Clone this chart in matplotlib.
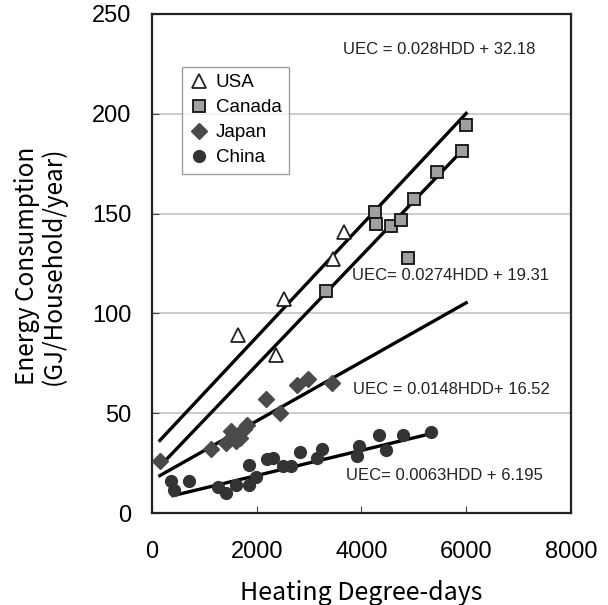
import matplotlib
matplotlib.use('Agg')
import matplotlib.pyplot as plt
import numpy as np

# data
usa_hdd = [1640, 2360, 2530, 3450, 3660]
usa_uec = [89, 79, 107, 127, 141]

canada_hdd = [3330, 4250, 4270, 4570, 4760, 4880, 5010, 5450, 5920, 6000]
canada_uec = [111, 151, 145, 144, 147, 127.5, 157.5, 171, 181.5, 194.5]

japan_hdd = [150, 1120, 1420, 1500, 1600, 1680, 1750, 1820, 2180, 2450, 2760, 2980, 3440]
japan_uec = [26, 32, 35, 41, 36, 37.5, 42, 44, 57, 50, 64, 67, 65]

china_hdd = [360, 420, 710, 1260, 1410, 1610, 1850, 1850, 1990, 2190, 2320, 2500, 2660,
             2820, 3150, 3250, 3910, 3960, 4330, 4460, 4790, 5330]
china_uec = [16, 11.5, 16, 13, 10, 14, 14, 24, 18, 27, 27.5, 23.5, 23.5,
             30.5, 27.5, 32, 28.5, 33.5, 39, 31.5, 39, 40.5]

# regression lines: (slope, intercept, hdd range, label)
fits = {
    'USA': (0.028, 32.18, (150, 6000), 'UEC = 0.028HDD + 32.18'),
    'Canada': (0.0274, 19.31, (150, 6000), 'UEC= 0.0274HDD + 19.31'),
    'Japan': (0.0148, 16.52, (150, 6000), 'UEC = 0.0148HDD+ 16.52'),
    'China': (0.0063, 6.195, (400, 5330), 'UEC= 0.0063HDD + 6.195'),
}
label_pos = {
    'USA': (3640, 232),
    'Canada': (3810, 119),
    'Japan': (3830, 62),
    'China': (3700, 19),
}

plt.rcParams['font.family'] = ['Liberation Sans', 'DejaVu Sans']
jp = ['Noto Sans CJK JP', 'DejaVu Sans']

fig = plt.figure(figsize=(6.08, 6.05), dpi=100)
ax = fig.add_axes([0.25, 0.152, 0.689, 0.825])

for name, (m, b, (x0, x1), _) in fits.items():
    xs = np.array([x0, x1])
    ax.plot(xs, m * xs + b, color='black', lw=2.4, zorder=2)

ax.plot(usa_hdd, usa_uec, '^', ms=10, mfc='white', mec='#222222', mew=1.3,
        ls='none', label='USA', zorder=3)
ax.plot(canada_hdd, canada_uec, 's', ms=8.5, mfc='#a0a0a0', mec='#111111', mew=1.3,
        ls='none', label='Canada', zorder=3)
ax.plot(japan_hdd, japan_uec, 'D', ms=8, mfc='#4a4a4a', mec='#4a4a4a', mew=1,
        ls='none', label='Japan', zorder=3)
ax.plot(china_hdd, china_uec, 'o', ms=8.5, mfc='#333333', mec='#333333', mew=1,
        ls='none', label='China', zorder=3)

for name, (_, _, _, text) in fits.items():
    x, y = label_pos[name]
    ax.text(x, y, text, fontsize=12, va='center', ha='left', color='#222222')

ax.set_xlim(0, 8000)
ax.set_ylim(0, 250)
ax.set_xticks([0, 2000, 4000, 6000, 8000])
ax.set_yticks([0, 50, 100, 150, 200, 250])
ax.tick_params(direction='in', length=5, labelsize=17, color='#444444')
ax.tick_params(axis='y', pad=15)
ax.tick_params(axis='x', pad=20)
ax.yaxis.grid(True, color='#c4c4c4', lw=1.2)
ax.set_axisbelow(True)
for s in ax.spines.values():
    s.set_linewidth(1.6)
    s.set_color('#222222')

ax.set_xlabel('Heating Degree-days', fontsize=18, family=jp)
ax.xaxis.set_label_coords(0.5, -0.135)
ax.set_ylabel('Energy Consumption\n(GJ/Household/year)', fontsize=17.5, family=jp,
              linespacing=1.0)
ax.yaxis.set_label_coords(-0.203, 0.495)

leg = ax.legend(loc='upper left', bbox_to_anchor=(0.072, 0.894), fontsize=13.5,
                frameon=True, fancybox=False, edgecolor='#888888',
                handlelength=1.0, handletextpad=0.4, borderpad=0.4,
                labelspacing=0.42, borderaxespad=0)
leg.get_frame().set_linewidth(1.0)

fig.savefig('out.png', dpi=100)
